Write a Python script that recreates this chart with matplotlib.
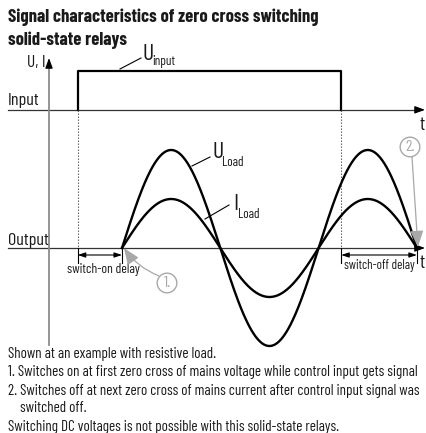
import numpy as np
import matplotlib.pyplot as plt
from matplotlib.patches import Circle

plt.rcParams['font.family'] = 'Barlow Condensed'

# schematic values (time in half periods, amplitude relative to U_Load peak)
zero_cross = [0.0, 1.0, 2.0, 3.0]     # zero crossings of mains while output is on
u_load_peak = 1.0
i_load_peak = 0.5
input_on = -0.45                        # control input switched on
input_off = 2.23                        # control input switched off
input_base = 1.41
input_high = 1.81

title = ["Signal characteristics of zero cross switching", "solid-state relays"]
notes = [
    "Shown at an example with resistive load.",
    "1. Switches on at first zero cross of mains voltage while control input gets signal",
    "2. Switches off at next zero cross of mains current after control input signal was",
    "    switched off.",
    "Switching DC voltages is not possible with this solid-state relays.",
]

W, H = 426, 433
X0, XS = 122, 98.3     # pixel of t=0, pixels per half period
Y0, YS = 248, 98       # pixel of output baseline, pixels per amplitude unit


def px(x, y):
    # pixel position -> data coords (only for placing labels)
    return (x - X0) / XS, (Y0 - y) / YS


fig = plt.figure(figsize=(W / 100, H / 100), dpi=100)
ax = fig.add_axes([0, 0, 1, 1])
ax.set_xlim(px(0, 0)[0], px(W, 0)[0])
ax.set_ylim(px(0, H)[1], px(0, 0)[1])
ax.axis('off')

ink = '#1a1a1a'
grey = '#a8a8a8'

# baselines with arrows (t axes)
x_left = px(8, 0)[0]
x_right = px(425, 0)[0]
for base, ty in [(input_base, 125), (0.0, 263)]:
    ax.plot([x_left, x_right - 0.05], [base, base], color='#333333', lw=0.9)
    ax.annotate('', xy=(x_right, base), xytext=(x_right - 0.08, base),
                arrowprops=dict(arrowstyle='-|>,head_length=0.6,head_width=0.22',
                                color='black', lw=0.9, shrinkA=0, shrinkB=0))
    ax.text(*px(419, ty), 't', fontsize=14, color=ink, va='center', ha='left')

# vertical axis
ax_x = px(49, 0)[0]
ax.plot([ax_x, ax_x], [px(0, 345)[1], px(0, 63)[1]], color='#8c8c8c', lw=1.3)
ax.annotate('', xy=(ax_x, px(0, 58)[1]), xytext=(ax_x, px(0, 66)[1]),
            arrowprops=dict(arrowstyle='-|>,head_length=0.6,head_width=0.22',
                            color='black', lw=0.9, shrinkA=0, shrinkB=0))
ax.text(px(46, 0)[0], px(0, 62)[1], 'U, I', fontsize=12.5, color=ink, ha='right', va='center')

# input pulse
ax.plot([input_on, input_on, input_off, input_off],
        [input_base, input_high, input_high, input_base], color='black', lw=1.6)

# dotted drop lines
for t in [input_on, input_off]:
    ax.plot([t, t], [input_base, 0], color='#555555', lw=0.8, ls=(0, (1.2, 1.5)))

# load curves
t = np.linspace(zero_cross[0], zero_cross[-1], 400)
ax.plot(t, u_load_peak * np.sin(np.pi * t), color='black', lw=1.7)
ax.plot(t, i_load_peak * np.sin(np.pi * t), color='black', lw=1.7)

# labels with leader lines
ax.plot(*zip(px(120, 69), px(141, 58)), color='black', lw=0.8)
ax.text(*px(142, 54), 'U', fontsize=17, color=ink, va='center')
ax.text(*px(152, 62), 'input', fontsize=9.5, color=ink, va='center')
ax.plot(*zip(px(192, 166), px(210, 157)), color='black', lw=0.8)
ax.text(*px(212, 153), 'U', fontsize=17, color=ink, va='center')
ax.text(*px(222, 162), 'Load', fontsize=9.5, color=ink, va='center')
ax.plot(*zip(px(205, 219), px(229, 205)), color='black', lw=0.8)
ax.text(*px(233, 205), 'I', fontsize=17, color=ink, va='center')
ax.text(*px(238, 214), 'Load', fontsize=9.5, color=ink, va='center')

ax.text(*px(8, 101), 'Input', fontsize=13, color=ink, va='center')
ax.text(*px(8, 241), 'Output', fontsize=13, color=ink, va='center')

# delay dimensions
dim_y = px(0, 255)[1]
tick_y = px(0, 263)[1]
for a, b in [(input_on, zero_cross[0]), (input_off, zero_cross[-1])]:
    for x in (a, b):
        ax.plot([x, x], [0, tick_y], color='black', lw=0.8)
    ax.annotate('', xy=(b, dim_y), xytext=(a, dim_y),
                arrowprops=dict(arrowstyle='<|-|>,head_length=0.45,head_width=0.15',
                                color='black', lw=0.8, shrinkA=0, shrinkB=0))
ax.text(*px(103, 270), 'switch-on delay', fontsize=9.8, color=ink, ha='center', va='center')
ax.text(*px(379, 266), 'switch-off delay', fontsize=9.3, color=ink, ha='center', va='center')

# grey callouts
for num, c, start, tip, rad in [('1.', px(167, 283), px(159, 276), (zero_cross[0] + 0.02, 0.0), -0.15),
                                ('2.', px(410, 147), px(412, 157), (zero_cross[-1] + 0.01, 0.01), 0.0)]:
    ax.add_patch(Circle(c, 0.1, fill=False, ec=grey, lw=1.0))
    ax.text(c[0], c[1], num, fontsize=11.5, color=grey, ha='center', va='center')
    ax.annotate('', xy=tip, xytext=start,
                arrowprops=dict(arrowstyle='-|>,head_length=1.0,head_width=0.4',
                                color=grey, lw=0.9, shrinkA=0, shrinkB=0,
                                connectionstyle=f'arc3,rad={rad}'))

# title and notes
for line, y in zip(title, [17, 40]):
    fig.text(8 / W, 1 - y / H, line, fontsize=13.4, fontweight='bold', color=ink,
             va='center', ha='left')
for line, y in zip(notes, [354, 372, 391, 408, 427]):
    fig.text(8 / W, 1 - y / H, line, fontsize=10.9, color=ink, va='center', ha='left')

fig.savefig('out.png', dpi=100)
